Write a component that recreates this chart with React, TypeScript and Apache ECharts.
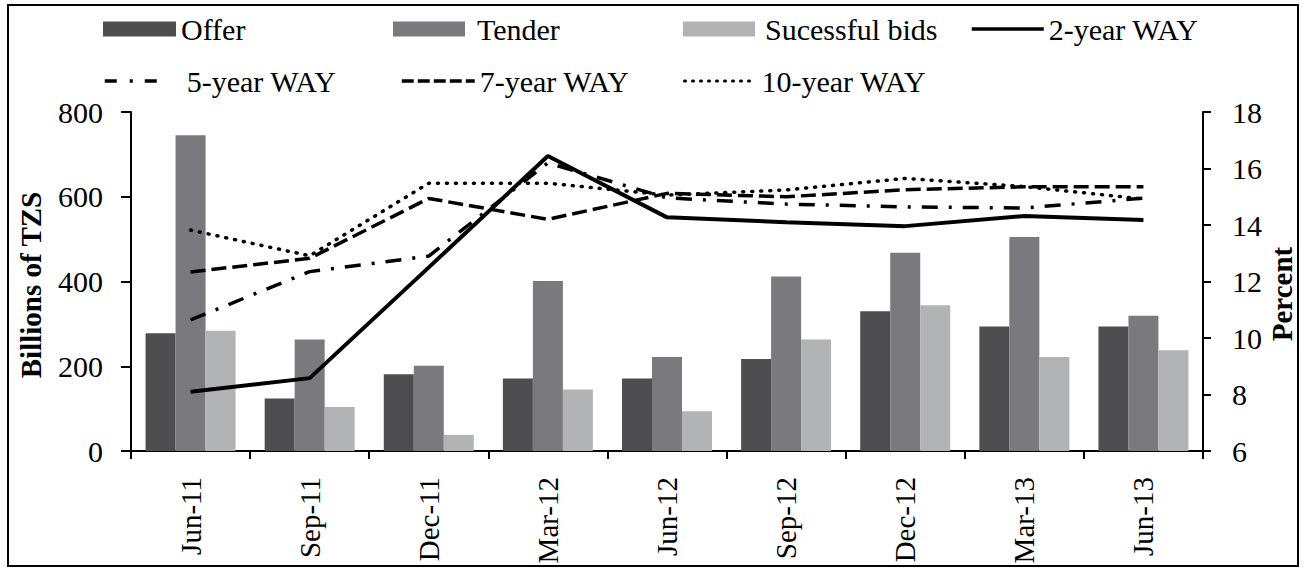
import React, { useEffect, useRef } from "react";
import * as echarts from "echarts";

const categories = ["Jun-11", "Sep-11", "Dec-11", "Mar-12", "Jun-12", "Sep-12", "Dec-12", "Mar-13", "Jun-13"];
const offer = [278, 124, 181, 171, 171, 217, 330, 294, 294];
const tender = [745, 263, 201, 401, 222, 412, 468, 505, 319];
const successful = [284, 104, 38, 145, 94, 263, 344, 222, 238];
const way2 = [8.1, 8.58, 12.5, 16.44, 14.27, 14.1, 13.96, 14.32, 14.18];
const way5 = [10.64, 12.35, 12.9, 16.2, 14.96, 14.74, 14.64, 14.6, 14.95];
const way7 = [12.34, 12.82, 14.94, 14.2, 15.12, 15.0, 15.25, 15.35, 15.35];
const way10 = [13.82, 12.91, 15.48, 15.48, 15.06, 15.24, 15.65, 15.36, 14.92];
const leftTicks = { min: 0, max: 800, interval: 200 };
const rightTicks = { min: 6, max: 18, interval: 2 };

const FONT = "'Liberation Serif', 'Times New Roman', Times, serif";

export default function App() {
  const ref = useRef<HTMLDivElement>(null);
  useEffect(() => {
    const chart = echarts.init(ref.current!, null, { renderer: "svg" });
    const textStyle = { fontFamily: FONT, fontSize: 30, color: "#000", lineHeight: 30 };
    const lg = (name: string, left: number, top: number, w: number, pad = 0, extra: any = {}) => ({
      data: [name],
      left,
      top,
      itemWidth: w,
      itemHeight: 15,
      padding: 0,
      selectedMode: false,
      textStyle: { ...textStyle, padding: [0, 0, 0, pad] },
      ...extra,
    });
    const lineLegend = (type: any, width: number, cap = "butt") => ({
      itemStyle: { color: "rgba(0,0,0,0)", borderWidth: 0, opacity: 0 },
      lineStyle: { color: "#000", width, type, cap },
    });
    const lineS = (name: string, data: number[], type: any, width: number, cap = "butt") => ({
      name,
      type: "line",
      yAxisIndex: 1,
      data,
      symbol: "none",
      lineStyle: { color: "#000", width, type, cap },
      itemStyle: { color: "#000" },
      z: 5,
    });
    const axisText = { color: "#000", fontFamily: FONT, fontSize: 30 };
    chart.setOption({
      animation: false,
      backgroundColor: "#fff",
      textStyle: { fontFamily: FONT },
      legend: [
        lg("Offer", 103, 14, 73, 0, { icon: "rect" }),
        lg("Tender", 393, 14, 72, 7, { icon: "rect" }),
        lg("Sucessful bids", 683, 14, 72, 5, { icon: "rect" }),
        lg("2-year WAY", 970, 14, 72, 0, lineLegend("solid", 3.5)),
        lg("5-year WAY", 103, 66, 60, 17, lineLegend([12, 13, 3, 12], 3.5)),
        lg("7-year WAY", 400, 66, 73, 0, lineLegend([12, 4], 3.5)),
        lg("10-year WAY", 683, 66, 72, 0, lineLegend([1, 7], 3, "round")),
      ],
      grid: { left: 131, right: 105, top: 112, bottom: 117, containLabel: false },
      xAxis: {
        type: "category",
        data: categories,
        boundaryGap: true,
        axisLine: { lineStyle: { color: "#000", width: 2 } },
        axisTick: { show: true, alignWithLabel: false, length: 8, lineStyle: { color: "#000", width: 2 } },
        axisLabel: { rotate: 90, margin: 26, ...axisText, fontSize: 29 },
      },
      yAxis: [
        {
          type: "value",
          ...leftTicks,
          splitLine: { show: false },
          axisLine: { show: true, lineStyle: { color: "#000", width: 2 } },
          axisTick: { show: true, length: 10, lineStyle: { color: "#000", width: 2 } },
          axisLabel: { margin: 28, ...axisText },
        },
        {
          type: "value",
          position: "right",
          ...rightTicks,
          splitLine: { show: false },
          axisLine: { show: true, lineStyle: { color: "#000", width: 2 } },
          axisTick: { show: true, length: 8, lineStyle: { color: "#000", width: 2 } },
          axisLabel: { margin: 29, ...axisText },
        },
      ],
      series: [
        { name: "Offer", type: "bar", data: offer, barWidth: 30, barGap: "0%", itemStyle: { color: "#4e4e50" } },
        { name: "Tender", type: "bar", data: tender, barWidth: 30, barGap: "0%", itemStyle: { color: "#7a7a7e" } },
        { name: "Sucessful bids", type: "bar", data: successful, barWidth: 30, barGap: "0%", itemStyle: { color: "#b1b3b5" } },
        lineS("2-year WAY", way2, "solid", 4),
        lineS("5-year WAY", way5, [16, 11, 3, 11], 3.5),
        lineS("7-year WAY", way7, [15, 6], 3.5),
        lineS("10-year WAY", way10, [1, 8], 3.5, "round"),
      ],
      graphic: [
        {
          type: "rect",
          shape: { x: 8, y: 5, width: 1290, height: 561 },
          style: { fill: "none", stroke: "#000", lineWidth: 2 },
          silent: true,
        },
        {
          type: "text",
          x: 31,
          y: 285,
          rotation: Math.PI / 2,
          style: { text: "Billions of TZS", fontFamily: FONT, fontSize: 29, fontWeight: "bold", fill: "#000", align: "center", verticalAlign: "middle" },
        },
        {
          type: "text",
          x: 1282,
          y: 294,
          rotation: Math.PI / 2,
          style: { text: "Percent", fontFamily: FONT, fontSize: 29, fontWeight: "bold", fill: "#000", align: "center", verticalAlign: "middle" },
        },
      ],
    });
    return () => chart.dispose();
  }, []);
  return <div ref={ref} style={{ position: "fixed", left: 0, top: 0, width: 1308, height: 568 }} />;
}
